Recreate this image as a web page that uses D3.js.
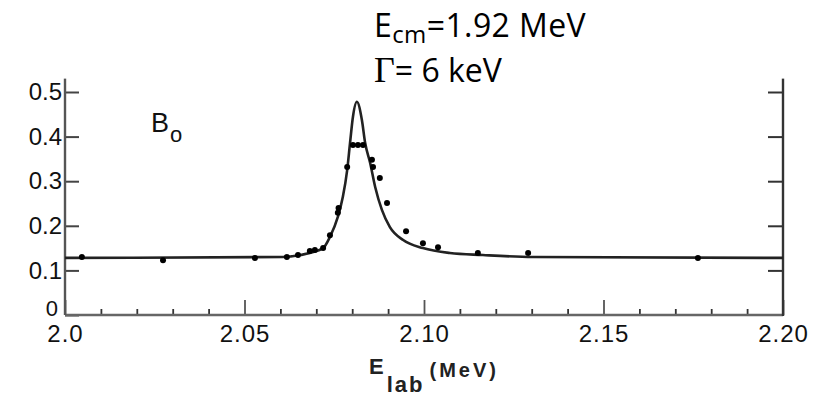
<!DOCTYPE html>
<html>
<head>
<meta charset="utf-8">
<script src="https://cdn.jsdelivr.net/npm/d3@7"></script>
<style>
  body { margin: 0; background: #fff; }
  svg { display: block; }
  .tick text { font-family: "Liberation Sans", Arial, sans-serif; fill: #111; }
</style>
</head>
<body>
<div id="chart-div"></div>
<script>
// measured points (E_lab in MeV, yield)
var dotE = [2.0047, 2.0273, 2.0529, 2.0618, 2.0649, 2.0682, 2.0696, 2.0719, 2.0738, 2.0760, 2.0762,
            2.0786, 2.0802, 2.0816, 2.0830, 2.0855, 2.0858, 2.0877, 2.0897, 2.0950, 2.0997, 2.1039,
            2.1150, 2.1290, 2.1763];
var dotY = [0.130, 0.123, 0.128, 0.130, 0.1345, 0.1435, 0.146, 0.150, 0.179, 0.229, 0.240,
            0.332, 0.381, 0.381, 0.381, 0.348, 0.332, 0.307, 0.251, 0.188, 0.161, 0.152,
            0.139, 0.139, 0.128];

// fitted resonance curve
var fitE = [2.000, 2.0607, 2.0655, 2.0719, 2.0738, 2.0760, 2.0774, 2.0786, 2.0794, 2.0802, 2.0813,
            2.0827, 2.0836, 2.0850, 2.0864, 2.0883, 2.0905, 2.0942, 2.0997, 2.1072, 2.1164, 2.1304, 2.200];
var fitY = [0.128, 0.130, 0.1345, 0.150, 0.175, 0.220, 0.265, 0.325, 0.386, 0.444, 0.478,
            0.437, 0.386, 0.341, 0.287, 0.235, 0.197, 0.168, 0.150, 0.139, 0.1345, 0.130, 0.128];

var xMajor = [2.0, 2.05, 2.10, 2.15, 2.20];
var xMajorLabels = ["2.0", "2.05", "2.10", "2.15", "2.20"];
var xMinor = [2.01, 2.02, 2.03, 2.04, 2.06, 2.07, 2.08, 2.09, 2.11, 2.12, 2.13, 2.14, 2.16, 2.17, 2.18, 2.19];
var yTicks = [0, 0.1, 0.2, 0.3, 0.4, 0.5];
var yLabels = ["0", "0.1", "0.2", "0.3", "0.4", "0.5"];

var width = 827, height = 396;

var svg = d3.select('#chart-div')
    .append('svg')
    .attr("width", width)
    .attr("height", height);

var x = d3.scaleLinear().domain([2.0, 2.2]).range([65, 783]);
var y = d3.scaleLinear().domain([0, 0.5]).range([315, 92]);
var yTop = 0.53;

//bottom axis, minor ticks
var xMinorAxis = d3.axisBottom(x).tickValues(xMinor).tickSizeInner(-6).tickSizeOuter(0).tickFormat("");
svg.append("g")
    .attr("transform", "translate(0," + y(0) + ")")
    .call(xMinorAxis)
    .call(function(g) { g.select(".domain").remove(); })
    .selectAll("line").attr("stroke", "#333").attr("stroke-width", 1.8);

//bottom axis, major ticks + labels
var xMajorAxis = d3.axisBottom(x).tickValues(xMajor).tickSizeInner(-15).tickSizeOuter(0).tickPadding(10)
    .tickFormat(function(d, i) { return xMajorLabels[i]; });
var gx = svg.append("g")
    .attr("transform", "translate(0," + y(0) + ")")
    .call(xMajorAxis);
gx.select(".domain").remove();
gx.selectAll("line").attr("stroke", "#555").attr("stroke-width", 1.8);
gx.selectAll("text").style("font-size", "24px").style("letter-spacing", "1px");

//left axis
var yAxis = d3.axisLeft(y).tickValues(yTicks).tickSizeInner(-14).tickSizeOuter(0).tickPadding(3)
    .tickFormat(function(d, i) { return yLabels[i]; });
var gy = svg.append("g")
    .attr("transform", "translate(" + x(2.0) + ",0)")
    .call(yAxis);
gy.select(".domain").remove();
gy.selectAll("line").attr("stroke", "#444").attr("stroke-width", 2);
gy.selectAll("text").style("font-size", "24px");
gy.selectAll(".tick").filter(function(d) { return d === 0; }).select("text")
    .attr("dx", -4).attr("dy", "0.02em").style("font-size", "22px");

//right axis (ticks only)
var yRight = d3.axisRight(y).tickValues(yTicks.slice(1)).tickSizeInner(-15).tickSizeOuter(0).tickFormat("");
var gr = svg.append("g")
    .attr("transform", "translate(" + x(2.2) + ",0)")
    .call(yRight);
gr.select(".domain").remove();
gr.selectAll("line").attr("stroke", "#333").attr("stroke-width", 2);

//frame lines
svg.append("line")
    .attr("x1", x(2.0)).attr("x2", x(2.2))
    .attr("y1", y(0)).attr("y2", y(0))
    .attr("stroke", "#666").attr("stroke-width", 2.4);
svg.append("line")
    .attr("x1", x(2.0)).attr("x2", x(2.0))
    .attr("y1", y(0)).attr("y2", y(yTop))
    .attr("stroke", "#555").attr("stroke-width", 2.4);
svg.append("line")
    .attr("x1", x(2.2)).attr("x2", x(2.2))
    .attr("y1", y(0) + 1).attr("y2", y(yTop))
    .attr("stroke", "#333").attr("stroke-width", 2.4);

//fit curve
var fit = fitE.map(function(d, i) { return {e: d, v: fitY[i]}; });
var line = d3.line()
    .x(function(d) { return x(d.e); })
    .y(function(d) { return y(d.v); })
    .curve(d3.curveMonotoneX);
svg.append("path")
    .datum(fit)
    .attr("fill", "none")
    .attr("stroke", "#222")
    .attr("stroke-width", 2.6)
    .attr("d", line);

//data points
svg.selectAll(".dot")
    .data(dotE.map(function(d, i) { return {e: d, v: dotY[i]}; }))
    .enter().append("circle")
    .attr("class", "dot")
    .attr("cx", function(d) { return x(d.e); })
    .attr("cy", function(d) { return y(d.v); })
    .attr("r", 3)
    .attr("fill", "#000");

//B_o label
var b = svg.append("text")
    .attr("x", 151).attr("y", 132)
    .style("font-family", "'Liberation Sans Narrow', 'Liberation Sans', sans-serif")
    .style("font-size", "27px")
    .attr("fill", "#111")
    .text("B");
b.append("tspan").attr("dx", 1).attr("dy", 10).style("font-size", "22px").text("o");

//x axis title
var xt = svg.append("text")
    .attr("x", 369).attr("y", 374)
    .style("font-family", "'Liberation Sans', Arial, sans-serif")
    .style("font-weight", "bold")
    .style("font-size", "22px")
    .attr("fill", "#222")
    .text("E");
xt.append("tspan").attr("dx", 3).attr("dy", 18).style("font-size", "22px").style("letter-spacing", "2px").text("lab");
xt.append("tspan").attr("dx", 5).attr("dy", -15).style("font-size", "20px").style("letter-spacing", "3px").text("(MeV)");

//annotation
var ann = svg.append("text")
    .attr("x", 374).attr("y", 37)
    .style("font-family", "'Open Sans', Lato, sans-serif")
    .style("font-size", "32px")
    .style("letter-spacing", "0.4px")
    .attr("fill", "#000")
    .text("E");
ann.append("tspan").attr("dy", 6).style("font-size", "24px").text("cm");
ann.append("tspan").attr("dy", -6).text("=1.92 MeV");

var ann2 = svg.append("text")
    .attr("x", 374).attr("y", 82)
    .style("font-family", "'Open Sans', Lato, sans-serif")
    .style("font-size", "32px")
    .attr("fill", "#000");
ann2.append("tspan").style("font-family", "'Liberation Serif', 'Times New Roman', serif").style("font-size", "36px").text("Γ");
ann2.append("tspan").text("= 6 keV");
</script>
</body>
</html>
